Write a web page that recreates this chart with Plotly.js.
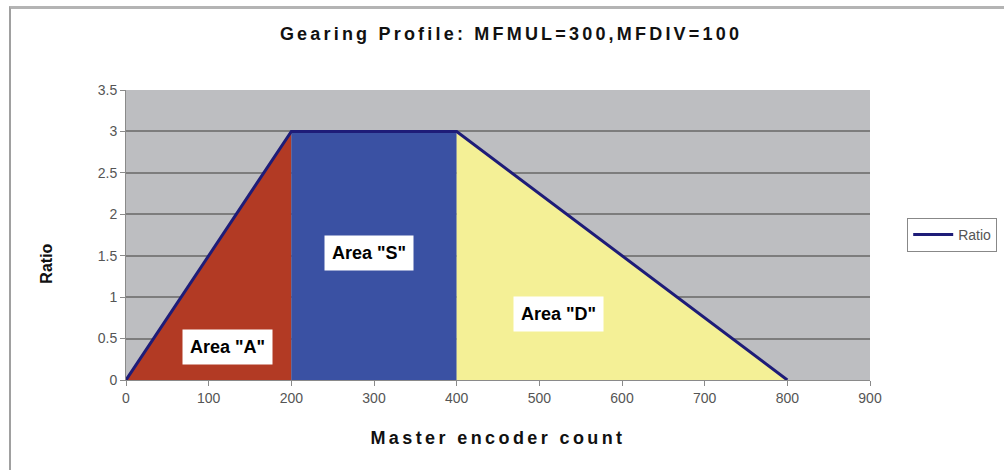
<!DOCTYPE html>
<html>
<head>
<meta charset="utf-8">
<script src="https://cdn.plot.ly/plotly-3.0.1.min.js"></script>
<style>
html,body{margin:0;padding:0;background:#fff;}
#wrap{position:relative;width:1004px;height:470px;}
#chart{position:absolute;left:0;top:0;width:1004px;height:470px;}
#frame{position:absolute;left:9px;top:6px;width:995px;height:464px;border-top:3px solid #b4b4b4;border-left:2px solid #a0a0a0;pointer-events:none;}
#chart text.gtitle{letter-spacing:3.2px;}
#chart text.xtitle{letter-spacing:3.4px;}
</style>
</head>
<body>
<div id="wrap"><div id="chart"></div><div id="frame"></div></div>
<script>
// Data
const masterCount = [0, 200, 400, 800];
const ratio = [0, 3, 3, 0];
const areaNames = ['Area "A"', 'Area "S"', 'Area "D"'];
const areaColors = ['#B23A24', '#3A51A3', '#F4F096'];
const labelX = [123, 294, 523];
const labelY = [0.40, 1.53, 0.80];

const FONT = 'Liberation Sans, Arial, sans-serif';
const traces = [];
for (let i = 0; i < 3; i++) {
  const xs = [masterCount[i], masterCount[i + 1], masterCount[i + 1], masterCount[i], masterCount[i]];
  const ys = [ratio[i], ratio[i + 1], 0, 0, ratio[i]];
  traces.push({
    x: xs, y: ys, type: 'scatter', mode: 'lines', fill: 'toself',
    fillcolor: areaColors[i], line: {width: 0, color: areaColors[i]},
    showlegend: false, hoverinfo: 'skip'
  });
}
traces.push({
  x: masterCount, y: ratio, type: 'scatter', mode: 'lines', name: 'Ratio',
  line: {color: '#1E1C78', width: 3}
});

const annotations = areaNames.map((t, i) => ({
  x: labelX[i], y: labelY[i], xref: 'x', yref: 'y', text: t, showarrow: false,
  font: {family: FONT, size: 18, color: '#000', weight: 'bold'},
  bgcolor: '#ffffff', borderpad: 7
}));
annotations.push({
  x: -0.108, y: 0.40, xref: 'paper', yref: 'paper', text: 'Ratio', showarrow: false,
  textangle: -90, xanchor: 'center', yanchor: 'middle',
  font: {family: FONT, size: 16, color: '#111', weight: 'bold'}
});

const layout = {
  width: 1004, height: 470,
  margin: {l: 126, r: 134, t: 90, b: 90, autoexpand: false},
  paper_bgcolor: 'rgba(0,0,0,0)',
  plot_bgcolor: '#BDBEC1',
  title: {text: 'Gearing Profile: MFMUL=300,MFDIV=100', x: 0.509, xanchor: 'center', y: 0.928, yanchor: 'middle',
    font: {family: FONT, size: 18, color: '#111', weight: 'bold'}},
  xaxis: {
    range: [0, 900], tick0: 0, dtick: 100, showgrid: false, zeroline: false,
    showline: true, linecolor: '#8a8a8a', linewidth: 1,
    ticks: 'outside', ticklen: 5, tickcolor: '#8a8a8a',
    tickfont: {family: FONT, size: 14, color: '#555'},
    title: {text: 'Master encoder count', standoff: 26,
      font: {family: FONT, size: 18, color: '#111', weight: 'bold'}},
    fixedrange: true
  },
  yaxis: {
    range: [0, 3.5], tick0: 0, dtick: 0.5, showgrid: true, gridcolor: '#7d7d7d', gridwidth: 2,
    zeroline: false, showline: true, linecolor: '#8a8a8a', linewidth: 1,
    ticks: 'outside', ticklen: 5, tickcolor: '#8a8a8a',
    tickfont: {family: FONT, size: 14, color: '#555'},
    fixedrange: true
  },
  legend: {x: 1.05, y: 0.5, xanchor: 'left', yanchor: 'middle', bgcolor: '#fff',
    bordercolor: '#888', borderwidth: 1, itemwidth: 40,
    font: {family: FONT, size: 14, color: '#555'}},
  annotations: annotations,
  showlegend: true
};

Plotly.newPlot('chart', traces, layout, {displayModeBar: false, staticPlot: true});
</script>
</body>
</html>
